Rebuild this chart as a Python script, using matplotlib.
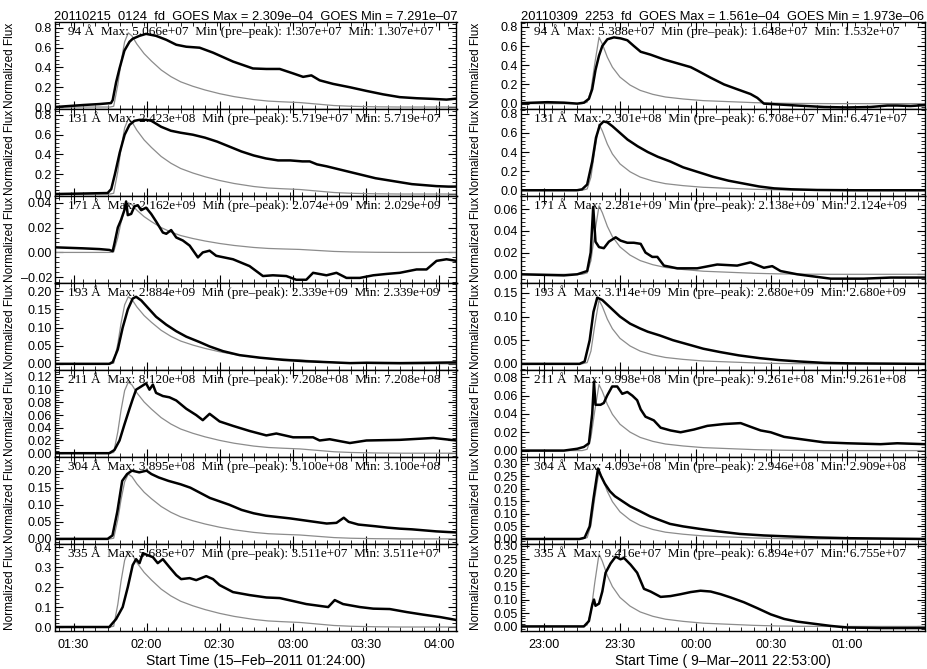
import numpy as np
import matplotlib
matplotlib.use('Agg')
import matplotlib.pyplot as plt
from matplotlib.ticker import MultipleLocator, FuncFormatter, AutoMinorLocator

plt.rcParams['font.family'] = ['Liberation Sans', 'DejaVu Sans']

channels = ['94', '131', '171', '193', '211', '304', '335']

# ---------------- Left event: 15-Feb-2011 (minutes after 01:24:00) ----------------
left_title = '20110215_0124  fd  GOES Max = 2.309e\u201304  GOES Min = 7.291e\u201307'
left_xlabel = 'Start Time (15\u2013Feb\u20132011 01:24:00)'
left_xlim = (-1.6, 163.3)
left_xticks = [6, 36, 66, 96, 126, 156]
left_xticklabels = ['01:30', '02:00', '02:30', '03:00', '03:30', '04:00']
left_max = ['5.066e+07', '2.423e+08', '2.162e+09', '2.884e+09', '8.120e+08', '3.895e+08', '5.685e+07']
left_minpre = ['1.307e+07', '5.719e+07', '2.074e+09', '2.339e+09', '7.208e+08', '3.100e+08', '3.511e+07']
left_min = ['1.307e+07', '5.719e+07', '2.029e+09', '2.339e+09', '7.208e+08', '3.100e+08', '3.511e+07']

left_goes_t = [-1.6, 21, 22.5, 24.2, 25.5, 27, 28.5, 30, 32, 35, 38, 42, 46, 50, 55, 60, 66,
               72, 80, 86, 92, 99, 106, 113, 120, 130, 140, 163.3]
left_goes_v = [0, 0, 0.01, 0.3, 0.6, 0.88, 1.0, 0.96, 0.85, 0.72, 0.62, 0.5, 0.41, 0.34, 0.28,
               0.23, 0.18, 0.14, 0.1, 0.08, 0.07, 0.06, 0.04, 0.02, 0.01, 0.003, 0, 0]
left_goes_peak = [0.75, 0.76, 0.04, 0.185, 0.112, 0.19, 0.38]

l94_t = [-1.6, 9.8, 16.6, 21.4, 22.1, 23.5, 24.9, 26.9, 29.0, 30.3, 33.1, 35.8, 39.9, 44.1, 48.2,
         52.3, 57.8, 63.3, 71.5, 79.7, 85.2, 90.7, 96.2, 100.3, 103.7, 107.1, 112.6, 119.5, 126.3,
         133.2, 140.0, 146.9, 153.8, 159.2, 163.3]
l94_v = [0.0, 0.02, 0.03, 0.04, 0.07, 0.25, 0.39, 0.57, 0.66, 0.69, 0.72, 0.74, 0.72, 0.68, 0.63,
         0.61, 0.60, 0.55, 0.46, 0.39, 0.385, 0.385, 0.34, 0.305, 0.32, 0.27, 0.234, 0.20, 0.163,
         0.128, 0.10, 0.089, 0.082, 0.075, 0.085]

l131_t = [-1.6, 10, 20, 21.5, 23, 25, 27, 29, 31, 33, 36, 38, 42, 46, 50, 55, 60, 65, 70, 75, 80,
          85, 90, 95, 100, 103, 106, 110, 115, 120, 125, 130, 135, 140, 145, 150, 155, 160, 163.3]
l131_v = [0.0, 0.005, 0.01, 0.05, 0.2, 0.42, 0.6, 0.7, 0.74, 0.75, 0.75, 0.74, 0.68, 0.64, 0.62,
          0.6, 0.57, 0.53, 0.48, 0.43, 0.39, 0.36, 0.34, 0.34, 0.33, 0.33, 0.30, 0.28, 0.25, 0.22,
          0.19, 0.16, 0.14, 0.12, 0.1, 0.09, 0.08, 0.075, 0.075]

l171_t = [-1.6, 9.8, 16.6, 20.7, 22.1, 22.8, 24.2, 25.5, 26.9, 27.6, 28.3, 29.7, 31.0, 32.4, 33.8,
          35.8, 37.9, 39.9, 42.7, 44.1, 46.1, 48.2, 50.9, 53.7, 57.1, 59.1, 61.9, 64.6, 71.5, 78.3,
          83.8, 87.9, 93.4, 97.5, 101.6, 104.4, 109.9, 114.0, 118.1, 123.6, 129.1, 134.6, 140.0,
          146.9, 151.0, 155.1, 159.2, 163.3]
l171_v = [0.0041, 0.0033, 0.0027, 0.002, 0.001, 0.007, 0.02, 0.026, 0.034, 0.041, 0.03, 0.031,
          0.037, 0.038, 0.034, 0.036, 0.031, 0.025, 0.016, 0.015, 0.018, 0.012, 0.0096, 0.0055,
          -0.004, 0.0, 0.0014, -0.0027, -0.0055, -0.011, -0.019, -0.0184, -0.019, -0.022, -0.022,
          -0.0164, -0.0184, -0.0164, -0.0205, -0.0205, -0.0184, -0.0173, -0.0164, -0.0137,
          -0.0137, -0.0068, -0.0055, -0.0068]

l193_t = [-1.6, 20.7, 22.1, 24.2, 26.2, 28.3, 30.3, 31.7, 33.8, 36.5, 39.9, 44.1, 48.2, 52.3, 57.8,
          61.9, 67.4, 74.2, 82.5, 92.1, 101.6, 112.6, 119.5, 126.3, 140.0, 153.8, 163.3]
l193_v = [0.0, 0.0, 0.005, 0.04, 0.1, 0.15, 0.18, 0.185, 0.175, 0.155, 0.13, 0.108, 0.09, 0.075,
          0.06, 0.048, 0.035, 0.024, 0.017, 0.011, 0.007, 0.004, 0.002, 0.003, 0.002, 0.003, 0.004]

l211_t = [-1.6, 20.7, 22.8, 24.9, 26.9, 29.0, 30.3, 31.7, 33.8, 35.8, 37.2, 38.6, 39.9, 42.7, 45.4,
          48.2, 52.3, 56.4, 59.1, 61.9, 66.0, 71.5, 78.3, 85.2, 89.3, 96.2, 104.4, 107.1, 111.2,
          119.5, 126.3, 140.0, 153.8, 163.3]
l211_v = [0.0, 0.0, 0.005, 0.02, 0.045, 0.07, 0.085, 0.1, 0.105, 0.11, 0.1, 0.108, 0.095, 0.09,
          0.088, 0.083, 0.07, 0.06, 0.052, 0.062, 0.05, 0.043, 0.035, 0.028, 0.031, 0.025, 0.025,
          0.02, 0.022, 0.016, 0.02, 0.021, 0.024, 0.02]

l304_t = [-1.6, 20, 22, 24, 26, 28, 30, 33, 36, 38, 41, 45, 50, 54, 58, 62, 66, 70, 75, 80, 85, 90,
          95, 100, 105, 110, 114, 117, 119, 123, 130, 135, 140, 145, 150, 155, 160, 163.3]
l304_v = [0.0, 0.0, 0.01, 0.08, 0.17, 0.19, 0.2, 0.195, 0.2, 0.19, 0.18, 0.17, 0.16, 0.15, 0.135,
          0.12, 0.11, 0.1, 0.085, 0.075, 0.068, 0.064, 0.06, 0.055, 0.05, 0.045, 0.047, 0.062, 0.05,
          0.042, 0.037, 0.033, 0.03, 0.028, 0.025, 0.022, 0.02, 0.019]

l335_t = [-1.6, 20.7, 23.5, 26.2, 28.3, 30.3, 31.7, 33.1, 34.5, 36.5, 38.6, 40.6, 42.7, 45.4, 48.2,
          50.2, 53.7, 56.4, 60.5, 63.3, 66.0, 71.5, 78.3, 85.2, 90.7, 96.2, 101.6, 105.8, 110.6,
          113.3, 116.7, 123.6, 129.1, 135.9, 142.8, 149.6, 156.5, 163.3]
l335_v = [0.0, 0.0, 0.04, 0.1, 0.2, 0.31, 0.34, 0.32, 0.37, 0.36, 0.35, 0.32, 0.34, 0.3, 0.26,
          0.24, 0.245, 0.235, 0.255, 0.24, 0.21, 0.175, 0.16, 0.148, 0.145, 0.13, 0.115, 0.108, 0.1,
          0.135, 0.115, 0.1, 0.092, 0.09, 0.075, 0.062, 0.05, 0.035]

# ---------------- Right event: 9-Mar-2011 (minutes after 22:53:00) ----------------
right_title = '20110309_2253  fd  GOES Max = 1.561e\u201304  GOES Min = 1.973e\u201306'
right_xlabel = 'Start Time ( 9\u2013Mar\u20132011 22:53:00)'
right_xlim = (-2.2, 157.8)
right_xticks = [7, 37, 67, 97, 127]
right_xticklabels = ['23:00', '23:30', '00:00', '00:30', '01:00']
right_max = ['5.388e+07', '2.301e+08', '2.281e+09', '3.114e+09', '9.998e+08', '4.093e+08', '9.416e+07']
right_minpre = ['1.648e+07', '6.708e+07', '2.138e+09', '2.680e+09', '9.261e+08', '2.946e+08', '6.894e+07']
right_min = ['1.532e+07', '6.471e+07', '2.124e+09', '2.680e+09', '9.261e+08', '2.909e+08', '6.755e+07']

right_goes_t = [-2.2, 22, 24, 25.5, 27, 28.7, 30, 32, 34, 37, 41, 45, 50, 55, 62, 70, 80, 90, 100,
                110, 120, 157.8]
right_goes_v = [0, 0, 0.02, 0.2, 0.6, 1.0, 0.9, 0.7, 0.55, 0.4, 0.28, 0.2, 0.14, 0.1, 0.07, 0.045,
                0.03, 0.015, 0.006, 0.002, 0, 0]
right_goes_peak = [0.69, 0.69, 0.063, 0.135, 0.072, 0.27, 0.27]

r94_t = [-2.2, 8.2, 14.8, 20.1, 22.7, 24.7, 26.0, 27.3, 28.7, 30.0, 32.0, 34.6, 37.2, 39.9, 42.5,
         45.2, 49.1, 54.4, 59.7, 65.0, 67.6, 72.9, 78.2, 83.4, 88.7, 91.4, 94.0, 100.6, 107.2,
         117.8, 127.0, 136.3, 142.9, 146.8, 152.1, 157.8]
r94_v = [0.005, 0.015, 0.01, 0.0, 0.01, 0.05, 0.15, 0.35, 0.5, 0.6, 0.67, 0.69, 0.68, 0.66, 0.6,
         0.54, 0.51, 0.46, 0.42, 0.38, 0.345, 0.27, 0.2, 0.15, 0.1, 0.06, 0.0, -0.01, -0.02,
         -0.035, -0.04, -0.035, -0.02, -0.02, -0.025, -0.015]

r131_t = [-2.2, 20, 22, 24, 26, 27.5, 29, 30.5, 32, 34, 37, 40, 44, 48, 52, 57, 62, 68, 74, 80, 86,
          92, 98, 105, 115, 130, 157.8]
r131_v = [0.0, 0.0, 0.01, 0.06, 0.3, 0.55, 0.68, 0.72, 0.71, 0.67, 0.6, 0.53, 0.46, 0.4, 0.35,
          0.3, 0.24, 0.19, 0.14, 0.1, 0.07, 0.04, 0.02, 0.01, 0.003, 0.0, 0.0]

r171_t = [-2.2, 14.8, 20.1, 24.0, 25.4, 26.4, 27.3, 28.7, 30.6, 32.6, 35.3, 37.2, 39.9, 42.5, 45.2,
          47.1, 49.8, 51.8, 54.4, 59.7, 67.6, 75.5, 83.4, 88.7, 94.0, 97.3, 100.6, 107.2, 113.8,
          120.4, 133.6, 144.2, 157.8]
r171_v = [0.0, -0.001, 0.0, 0.003, 0.02, 0.062, 0.03, 0.025, 0.024, 0.03, 0.034, 0.031, 0.029,
          0.029, 0.028, 0.02, 0.016, 0.016, 0.008, 0.0055, 0.0055, 0.009, 0.008, 0.011, 0.006,
          0.0075, 0.003, 0.0, -0.002, -0.004, -0.004, -0.003, -0.003]

r193_t = [-2.2, 21, 23, 25, 26.5, 28, 30, 33, 37, 41, 44.9, 48, 52.8, 58, 64.7, 70, 76.6, 84, 92.4,
          100, 108, 118, 128, 157.8]
r193_v = [0.0, 0.0, 0.005, 0.05, 0.11, 0.14, 0.135, 0.12, 0.1, 0.085, 0.075, 0.068, 0.06, 0.05,
          0.04, 0.032, 0.025, 0.018, 0.012, 0.008, 0.005, 0.002, 0.001, 0.0]

r211_t = [-2.2, 14.8, 20.1, 22.7, 24.7, 26.0, 26.7, 27.3, 29.3, 30.6, 31.9, 33.9, 35.9, 37.9, 39.9,
          41.9, 43.8, 45.2, 47.1, 50.4, 53.1, 57.0, 61.0, 66.3, 71.6, 78.2, 84.8, 88.7, 92.7, 96.7,
          102.0, 109.9, 117.8, 127.0, 140.2, 146.8, 157.8]
r211_v = [0.0, 0.0, 0.002, 0.004, 0.008, 0.04, 0.075, 0.05, 0.05, 0.052, 0.06, 0.07, 0.07, 0.062,
          0.064, 0.06, 0.055, 0.045, 0.037, 0.033, 0.025, 0.022, 0.02, 0.023, 0.027, 0.029, 0.03,
          0.026, 0.022, 0.02, 0.015, 0.012, 0.009, 0.008, 0.007, 0.008, 0.007]

r304_t = [-2.2, 21, 23, 25, 26.5, 28.3, 29.5, 31, 33, 35, 38, 41, 45, 48.9, 52, 56.8, 62, 68.7, 76,
          84.5, 94, 104, 115, 128, 157.8]
r304_v = [0.0, 0.0, 0.005, 0.05, 0.16, 0.28, 0.25, 0.22, 0.19, 0.17, 0.15, 0.13, 0.11, 0.09, 0.078,
          0.06, 0.05, 0.04, 0.03, 0.02, 0.014, 0.01, 0.006, 0.003, 0.0]

r335_t = [-2.2, 14.8, 22.7, 24.7, 26.0, 26.7, 27.3, 28.7, 30.0, 31.3, 33.3, 35.3, 37.2, 38.6, 41.2,
          43.8, 46.5, 49.1, 53.1, 57.0, 61.0, 65.0, 68.9, 72.9, 76.9, 80.8, 86.1, 91.4, 96.7,
          102.0, 107.2, 113.8, 120.4, 127.0, 140.2, 157.8]
r335_v = [0.0, 0.0, 0.0, 0.02, 0.08, 0.1, 0.077, 0.085, 0.13, 0.2, 0.235, 0.26, 0.25, 0.255, 0.23,
          0.2, 0.14, 0.13, 0.11, 0.113, 0.12, 0.128, 0.133, 0.13, 0.12, 0.108, 0.09, 0.068, 0.045,
          0.028, 0.018, 0.01, 0.002, -0.004, -0.006, -0.006]

left_series = [(l94_t, l94_v), (l131_t, l131_v), (l171_t, l171_v), (l193_t, l193_v),
               (l211_t, l211_v), (l304_t, l304_v), (l335_t, l335_v)]
right_series = [(r94_t, r94_v), (r131_t, r131_v), (r171_t, r171_v), (r193_t, r193_v),
                (r211_t, r211_v), (r304_t, r304_v), (r335_t, r335_v)]

# y-axis settings per panel: (ymin, ymax, major step, top tick, format)
left_yaxis = [(-0.02, 0.86, 0.2, 0.8, '%.1f'), (-0.02, 0.86, 0.2, 0.8, '%.1f'),
              (-0.0246, 0.0454, 0.02, 0.04, '%.2f'), (-0.017, 0.223, 0.05, 0.20, '%.2f'),
              (-0.006, 0.131, 0.02, 0.12, '%.2f'), (-0.015, 0.24, 0.05, 0.20, '%.2f'),
              (-0.02, 0.416, 0.1, 0.4, '%.1f')]
right_yaxis = [(-0.056, 0.85, 0.2, 0.8, '%.1f'), (-0.06, 0.85, 0.2, 0.8, '%.1f'),
               (-0.008, 0.072, 0.02, 0.06, '%.2f'), (-0.013, 0.171, 0.05, 0.15, '%.2f'),
               (-0.007, 0.088, 0.02, 0.08, '%.2f'), (-0.02, 0.326, 0.05, 0.30, '%.2f'),
               (-0.017, 0.307, 0.05, 0.30, '%.2f')]

W, H = 928, 669
fig = plt.figure(figsize=(W / 100, H / 100), dpi=100)

top_px, bot_px = 22, 631
panel_h = (bot_px - top_px) / 7.0


def fmt_factory(f):
    return FuncFormatter(lambda v, p: (f % v).replace('-', '\u2013'))


def draw_column(x0_px, x1_px, series, goes_t, goes_v, goes_peak, yaxis, maxs, minpres, mins,
                xlim, xticks, xticklabels, title, xlabel):
    for i in range(7):
        y_top = top_px + i * panel_h
        rect = [x0_px / W, 1 - (y_top + panel_h) / H, (x1_px - x0_px) / W, panel_h / H]
        ax = fig.add_axes(rect)
        t, v = series[i]
        ax.plot(goes_t, np.array(goes_v) * goes_peak[i], color='#8c8c8c', lw=0.9, zorder=2)
        ax.plot(t, v, color='black', lw=1.8, zorder=3)
        ymin, ymax, step, ytop, f = yaxis[i]
        ax.set_xlim(*xlim)
        ax.set_ylim(ymin, ymax)
        start = -step if ymin < -step * 0.9 else 0.0
        ax.set_yticks(np.arange(start, ytop + step / 2, step))
        ax.yaxis.set_major_formatter(fmt_factory(f))
        ax.yaxis.set_minor_locator(AutoMinorLocator(5))
        ax.set_xticks(xticks)
        ax.xaxis.set_minor_locator(MultipleLocator(5))
        if i == 6:
            ax.set_xticklabels(xticklabels)
            ax.set_xlabel(xlabel, fontsize=10, labelpad=2)
        else:
            ax.set_xticklabels([])
        ax.tick_params(which='both', direction='in', top=True, right=True, labelsize=9, pad=2)
        ax.tick_params(which='major', length=6, width=0.8)
        ax.tick_params(which='minor', length=3, width=0.6)
        ax.tick_params(axis='x', which='major', pad=6)
        for s in ax.spines.values():
            s.set_linewidth(1.0)
        ax.set_ylabel('Normalized Flux', fontsize=8.5)
        ax.yaxis.set_label_coords(-0.096, 0.5)
        ax.text(0.032, 0.90,
                '%s \u00c5  Max: %s  Min (pre\u2013peak): %s  Min: %s' % (channels[i], maxs[i], minpres[i], mins[i]),
                transform=ax.transAxes, ha='left', va='center', fontsize=9.5,
                family=['Liberation Serif', 'DejaVu Serif'], zorder=5)
        if i == 0:
            ax.set_title(title, fontsize=9.3, pad=2)


draw_column(55, 456.5, left_series, left_goes_t, left_goes_v, left_goes_peak, left_yaxis,
            left_max, left_minpre, left_min, left_xlim, left_xticks, left_xticklabels,
            left_title, left_xlabel)
draw_column(521, 925, right_series, right_goes_t, right_goes_v, right_goes_peak, right_yaxis,
            right_max, right_minpre, right_min, right_xlim, right_xticks, right_xticklabels,
            right_title, right_xlabel)

fig.savefig('out.png', dpi=100)
